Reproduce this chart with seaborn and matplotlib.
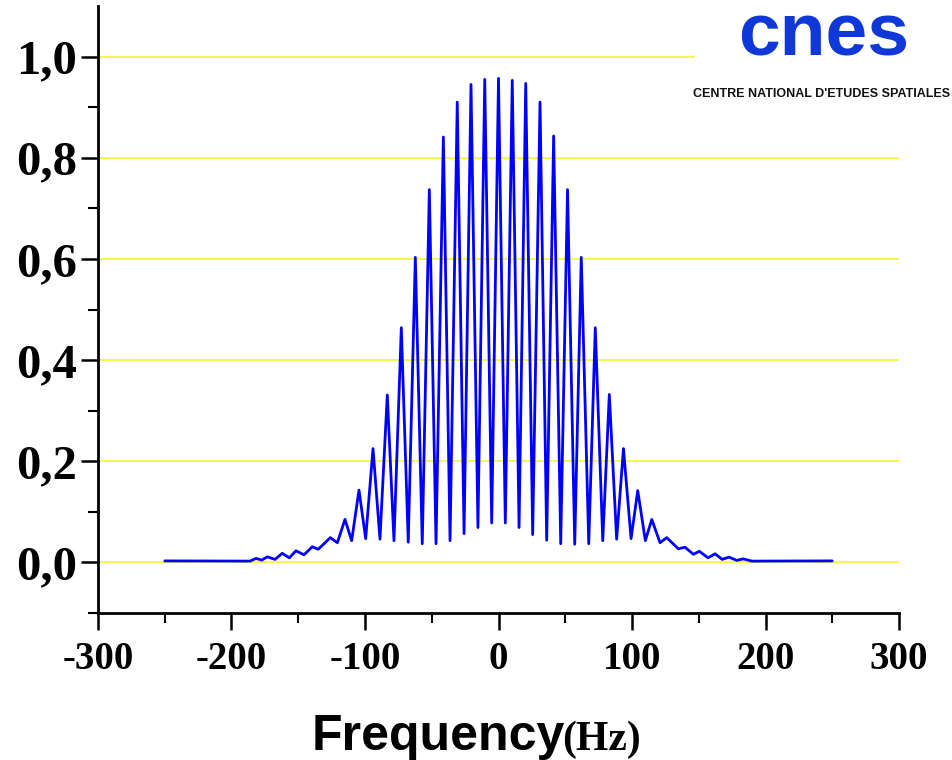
#!/usr/bin/env python3
"""
Fringe spectrum plot (CNES style): intensity vs frequency in Hz.
Peak and trough levels read off the reference picture.
"""
import matplotlib
matplotlib.use("Agg")
import matplotlib.pyplot as plt
import matplotlib.patches as mpatches
import seaborn as sns
import pandas as pd

# Extrema of the fringe pattern (Hz, level), left to right
fringe_hz = [
    -250, -186, -181.6, -177.4, -173.2, -167.4, -162, -156.7, -151.7, -145.7,
    -139.5, -135, -126, -120.7, -115, -110, -104.5, -99.5, -94, -88.8,
    -83.3, -78.3, -72.8, -67.6, -62.3, -57.1, -51.8, -46.8, -41.3, -36.3,
    -30.9, -25.8, -20.6, -15.4, -10.3, -5.1, 0, 5.1, 10.3, 15.4,
    20.4, 25.6, 31.1, 36.1, 41.3, 46.6, 51.7, 57.1, 62.0, 67.6,
    72.5, 78.1, 83.0, 88.5, 93.6, 99.3, 104.3, 110, 114.8, 121,
    126, 134.7, 139.7, 146, 150.4, 157, 162.2, 167.6, 172.7, 178.4,
    183.4, 189.7, 250,
]
fringe_level = [
    0.003, 0.0026, 0.008, 0.0045, 0.011, 0.006, 0.018, 0.009, 0.023, 0.015,
    0.031, 0.026, 0.049, 0.039, 0.085, 0.043, 0.143, 0.047, 0.225, 0.046,
    0.331, 0.043, 0.464, 0.040, 0.603, 0.037, 0.737, 0.037, 0.841, 0.043,
    0.910, 0.057, 0.945, 0.069, 0.955, 0.078, 0.957, 0.078, 0.953, 0.069,
    0.947, 0.055, 0.910, 0.044, 0.843, 0.037, 0.737, 0.036, 0.603, 0.037,
    0.464, 0.043, 0.332, 0.046, 0.225, 0.047, 0.142, 0.043, 0.085, 0.039,
    0.049, 0.027, 0.030, 0.016, 0.022, 0.009, 0.017, 0.006, 0.0105, 0.004,
    0.007, 0.0026, 0.003,
]

x_ticks = [-300, -200, -100, 0, 100, 200, 300]
x_labels = ["-300", "-200", "-100", "0", "100", "200", "300"]
y_ticks = [0.0, 0.2, 0.4, 0.6, 0.8, 1.0]
y_labels = ["0,0", "0,2", "0,4", "0,6", "0,8", "1,0"]

SERIF = ["Liberation Serif", "DejaVu Serif"]
SANS = ["Liberation Sans", "DejaVu Sans"]


def main():
    sns.set_theme(style="white")
    plt.rcParams["font.family"] = SERIF
    plt.rcParams["text.color"] = "black"
    plt.rcParams["xtick.color"] = "black"
    plt.rcParams["ytick.color"] = "black"
    plt.rcParams["axes.labelcolor"] = "black"

    df = pd.DataFrame({"hz": fringe_hz, "level": fringe_level})

    fig = plt.figure(figsize=(9.52, 7.6), dpi=100)
    ax = fig.add_axes([98 / 952, 1 - 613 / 760, 801 / 952, 607 / 760])

    # yellow horizontal grid at the major y ticks
    for yv in y_ticks:
        ax.axhline(yv, color="#f7f73a", linewidth=1.3, zorder=1)

    sns.lineplot(data=df, x="hz", y="level", color="#0000ff", linewidth=2.0,
                 estimator=None, ax=ax, zorder=3)
    for line in ax.lines[len(y_ticks):]:
        line.set_solid_joinstyle("round")

    ax.set_xlim(-300, 300)
    ax.set_ylim(-0.1, 1.1)
    ax.set_xticks(x_ticks)
    ax.set_xticklabels(x_labels)
    ax.set_xticks(range(-250, 300, 100), minor=True)
    ax.set_yticks(y_ticks)
    ax.set_yticklabels(y_labels)
    ax.set_yticks([-0.1, 0.1, 0.3, 0.5, 0.7, 0.9], minor=True)
    ax.set_xlabel("")
    ax.set_ylabel("")

    for side in ["top", "right"]:
        ax.spines[side].set_visible(False)
    for side in ["left", "bottom"]:
        ax.spines[side].set_color("black")
        ax.spines[side].set_linewidth(2)

    ax.tick_params(which="major", direction="out", length=12, width=1.8,
                   color="black", left=True, bottom=True)
    ax.tick_params(which="minor", direction="out", length=7, width=1.5,
                   color="black", left=True, bottom=True)
    ax.tick_params(axis="x", which="major", pad=8)
    ax.tick_params(axis="y", which="major", pad=3)
    for lab in ax.get_xticklabels():
        lab.set_fontsize(28)
        lab.set_fontweight("bold")
        lab.set_family(SERIF)
        lab.set_color("black")
    for lab in ax.get_yticklabels():
        lab.set_fontsize(35)
        lab.set_fontweight("bold")
        lab.set_family(SERIF)
        lab.set_color("black")

    # x axis title: sans "Frequency" followed by serif "(Hz)"
    fig.text(565 / 952, 1 - 750 / 760, "Frequency", ha="right", va="baseline",
             fontsize=36, fontweight="bold", family=SANS, color="black")
    fig.text(562 / 952, 1 - 750 / 760, "(Hz)", ha="left", va="baseline",
             fontsize=30, fontweight="bold", family=SERIF, color="black")

    # CNES logo area (white box hides the grid line behind it)
    fig.patches.append(mpatches.Rectangle((695 / 952, 1 - 105 / 760), 257 / 952, 105 / 760,
                                          transform=fig.transFigure, facecolor="white",
                                          edgecolor="none", zorder=5))
    fig.text(824 / 952, 1 - 56 / 760, "cnes", ha="center", va="baseline",
             fontsize=54, fontweight="bold", color="#1038d8", family=SANS, zorder=6)
    fig.text(693 / 952, 1 - 97 / 760, "CENTRE NATIONAL D'ETUDES SPATIALES",
             ha="left", va="baseline", fontsize=9.0, fontweight="bold",
             color="#111111", family=SANS, zorder=6)

    fig.savefig("out.png", dpi=100)


if __name__ == "__main__":
    main()
